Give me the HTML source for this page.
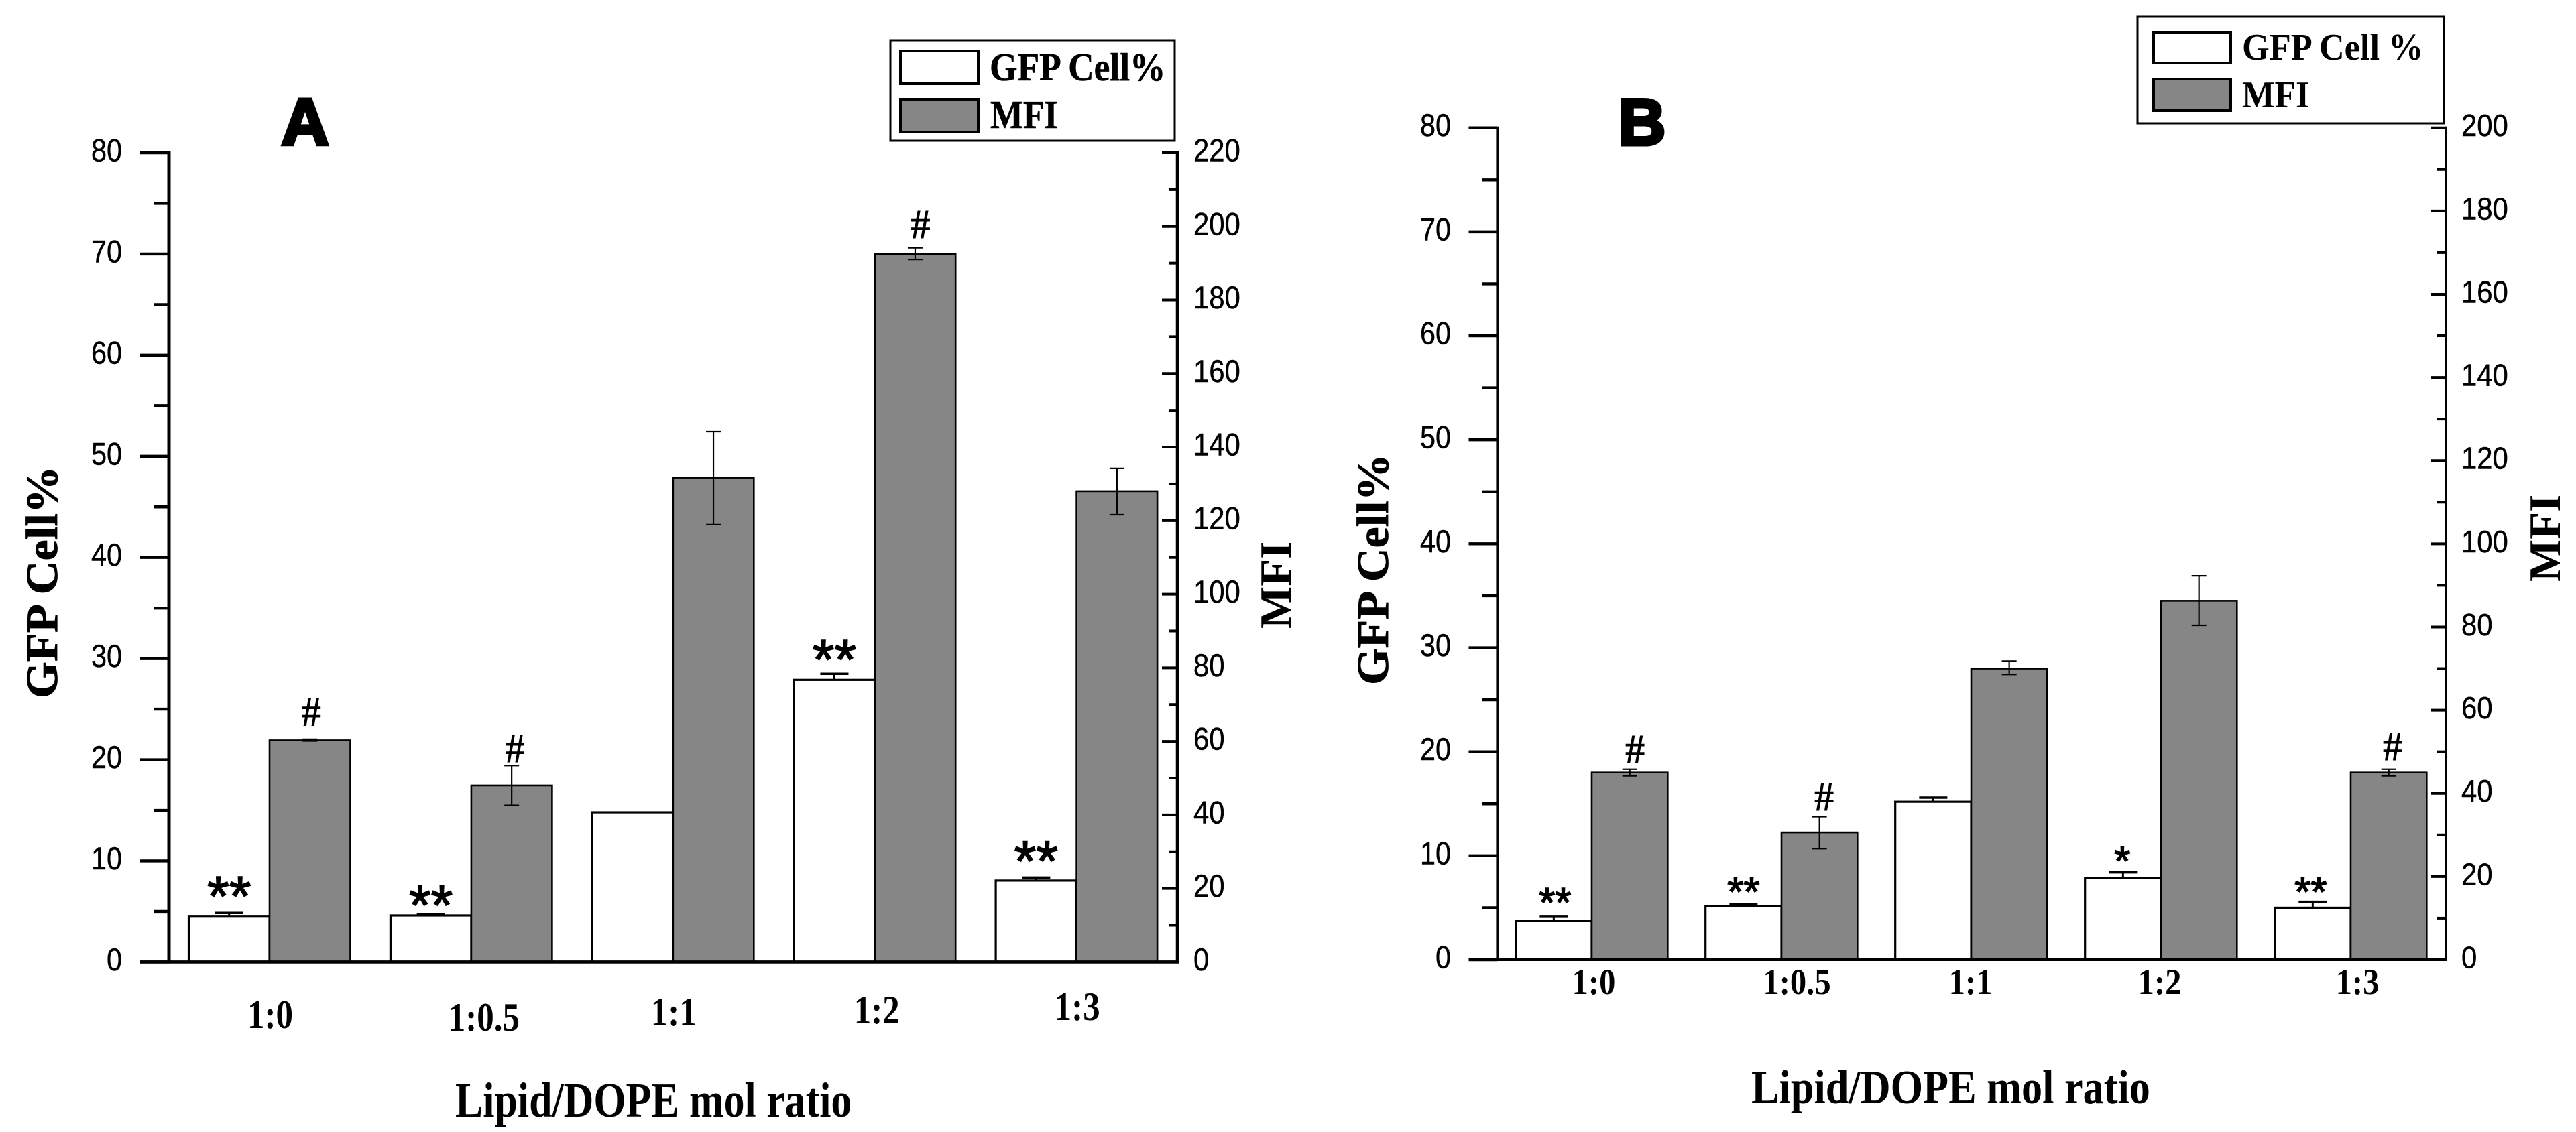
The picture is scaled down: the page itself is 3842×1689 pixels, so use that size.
<!DOCTYPE html>
<html lang="en">
<head>
<meta charset="utf-8">
<title>GFP Cell% and MFI versus Lipid/DOPE mol ratio</title>
<style>
html,body{margin:0;padding:0;background:#fff;}
svg{display:block;}
</style>
</head>
<body>
<svg id="figure" xmlns="http://www.w3.org/2000/svg" width="3842" height="1689" viewBox="0 0 3842 1689">
  <rect x="0" y="0" width="3842" height="1689" fill="#fff"/>
  <g id="panel-a"></g>
  <g id="panel-b"></g>

  <!-- Panel A static text -->
  <text transform="translate(455,216)" text-anchor="middle" font-family="'Liberation Sans',sans-serif" font-weight="700" font-size="98" stroke="#000" stroke-width="5">A</text>
  <text transform="translate(85,1042) rotate(-90) scale(1.06,1)" font-family="'Liberation Serif',serif" font-weight="700" font-size="66.5" stroke="#000" stroke-width="0.8">GFP Cell%</text>
  <text transform="translate(1925,938) rotate(-90)" font-family="'Liberation Serif',serif" font-weight="700" font-size="67">MFI</text>
  <text transform="translate(679,1666) scale(.848,1)" font-family="'Liberation Serif',serif" font-weight="700" font-size="73">Lipid/DOPE mol ratio</text>
  <g>
    <rect x="1328" y="60" width="424" height="150" fill="#fff" stroke="#000" stroke-width="3"/>
    <rect x="1343" y="76" width="116" height="49" fill="#fff" stroke="#000" stroke-width="4"/>
    <rect x="1343" y="148" width="116" height="49" fill="#868686" stroke="#000" stroke-width="4"/>
    <text transform="translate(1476,120) scale(.905,1)" font-family="'Liberation Serif',serif" font-weight="700" font-size="59" stroke="#000" stroke-width="0.6">GFP Cell%</text>
    <text transform="translate(1477,191) scale(.877,1)" font-family="'Liberation Serif',serif" font-weight="700" font-size="59" stroke="#000" stroke-width="0.6">MFI</text>
  </g>

  <!-- Panel B static text -->
  <text transform="translate(2449,216)" text-anchor="middle" font-family="'Liberation Sans',sans-serif" font-weight="700" font-size="98" stroke="#000" stroke-width="5">B</text>
  <text transform="translate(2070,1022) rotate(-90) scale(1.05,1)" font-family="'Liberation Serif',serif" font-weight="700" font-size="66.8" stroke="#000" stroke-width="0.8">GFP Cell%</text>
  <text transform="translate(3818,868) rotate(-90)" font-family="'Liberation Serif',serif" font-weight="700" font-size="67">MFI</text>
  <text transform="translate(2612,1646) scale(.877,1)" font-family="'Liberation Serif',serif" font-weight="700" font-size="71">Lipid/DOPE mol ratio</text>
  <g>
    <rect x="3188" y="25" width="457" height="159" fill="#fff" stroke="#000" stroke-width="3"/>
    <rect x="3212" y="48" width="115" height="46" fill="#fff" stroke="#000" stroke-width="4"/>
    <rect x="3212" y="118" width="115" height="47" fill="#868686" stroke="#000" stroke-width="4"/>
    <text transform="translate(3344,89) scale(.935,1)" font-family="'Liberation Serif',serif" font-weight="700" font-size="56">GFP Cell %</text>
    <text transform="translate(3344,160) scale(.92,1)" font-family="'Liberation Serif',serif" font-weight="700" font-size="56">MFI</text>
  </g>
</svg>

<script>
// ---- chart data ----
const categories = ['1:0', '1:0.5', '1:1', '1:2', '1:3'];

const gfpA = [4.55, 4.6, 14.8, 27.9, 8.05];
const gfpErrUpA = [0.3, 0.15, 0, 0.6, 0.3];
const mfiA = [60.3, 48.0, 131.7, 192.5, 128.0];
const mfiErrUpA = [0.3, 5.4, 12.5, 1.7, 6.2];
const mfiErrDownA = [0.2, 5.4, 12.8, 1.5, 6.4];

const gfpB = [3.74, 5.15, 15.2, 7.86, 5.0];
const gfpErrUpB = [0.46, 0.15, 0.4, 0.54, 0.57];
const mfiB = [45.0, 30.6, 70.0, 86.3, 45.0];
const mfiErrUpB = [0.8, 3.8, 1.8, 6.0, 0.8];
const mfiErrDownB = [0.8, 3.9, 1.4, 5.9, 0.8];

const leftMajorTicks = [0, 10, 20, 30, 40, 50, 60, 70, 80];
const leftMinorTicks = [5, 15, 25, 35, 45, 55, 65, 75];
const rightMajorTicksA = [0, 20, 40, 60, 80, 100, 120, 140, 160, 180, 200, 220];
const rightMinorTicksA = [10, 30, 50, 70, 90, 110, 130, 150, 170, 190, 210];
const rightMajorTicksB = [0, 20, 40, 60, 80, 100, 120, 140, 160, 180, 200];
const rightMinorTicksB = [10, 30, 50, 70, 90, 110, 130, 150, 170, 190];

const SVGNS = 'http://www.w3.org/2000/svg';
const SANS = "'Liberation Sans',sans-serif";
const SERIF = "'Liberation Serif',serif";

function make(parent, tag, attrs, content) {
  const node = document.createElementNS(SVGNS, tag);
  for (const key in attrs) node.setAttribute(key, attrs[key]);
  if (content !== undefined) node.textContent = content;
  parent.appendChild(node);
  return node;
}

function line(parent, x1, y1, x2, y2, width) {
  return make(parent, 'line', { x1: x1, y1: y1, x2: x2, y2: y2, stroke: '#000', 'stroke-width': width });
}

function label(parent, x, y, str, size, sx, anchor, family, weight) {
  return make(parent, 'text', {
    transform: 'translate(' + x + ',' + y + ') scale(' + sx + ',1)',
    'text-anchor': anchor,
    'font-family': family,
    'font-weight': weight,
    'font-size': size,
    fill: '#000'
  }, str);
}

function drawPanel(cfg) {
  const g = document.getElementById(cfg.id);
  const yScale = function (max) {
    return function (v) { return cfg.y0 - (cfg.y0 - cfg.yTop) * v / max; };
  };
  const yLeft = yScale(cfg.leftMax);
  const yRight = yScale(cfg.rightMax);
  const xCenter = function (i) { return cfg.xFirst + cfg.step * i; };

  // bars
  categories.forEach(function (cat, i) {
    const c = xCenter(i);
    const gfpBar = make(g, 'rect', {
      x: c - cfg.barW, y: yLeft(cfg.gfp[i]), width: cfg.barW,
      height: cfg.y0 - yLeft(cfg.gfp[i]), fill: '#fff', stroke: '#000', 'stroke-width': 3.2
    });
    
    

    if (cfg.gfpUp[i] > 0) {
      const gfpErr = make(g, 'g', {});
      
      
      const ex = c - cfg.barW / 2;
      const top = yLeft(cfg.gfp[i] + cfg.gfpUp[i]);
      line(gfpErr, ex, yLeft(cfg.gfp[i]), ex, top, 3);
      line(gfpErr, ex - cfg.capW, top, ex + cfg.capW, top, 3.5);
    }
  });
  categories.forEach(function (cat, i) {
    const c = xCenter(i);
    const mfiBar = make(g, 'rect', {
      x: c, y: yRight(cfg.mfi[i]), width: cfg.barW,
      height: cfg.y0 - yRight(cfg.mfi[i]), fill: '#868686', stroke: '#000', 'stroke-width': 2.6
    });
    
    

    const mfiErr = make(g, 'g', {});
    
    
    const ex = c + cfg.barW / 2;
    const top = yRight(cfg.mfi[i] + cfg.mfiUp[i]);
    const bottom = yRight(cfg.mfi[i] - cfg.mfiDown[i]);
    line(mfiErr, ex, top, ex, bottom, 2.2);
    line(mfiErr, ex - 11, top, ex + 11, top, 2.2);
    line(mfiErr, ex - 11, bottom, ex + 11, bottom, 2.2);

    const catLabel = label(g, c + cfg.catDx[i], cfg.catBase[i], cat, cfg.catSize, cfg.catSx, 'middle', SERIF, 700);
    
    
  });

  // left axis
  const leftAxis = make(g, 'g', {});
  
  
  line(leftAxis, cfg.xLeft, cfg.yTop - 2, cfg.xLeft, cfg.y0 + 2, cfg.leftW);
  leftMajorTicks.forEach(function (v) {
    const tick = line(leftAxis, cfg.xLeft - 43, yLeft(v), cfg.xLeft, yLeft(v), 4.4);
    
    
    const text = label(leftAxis, cfg.leftLabelX, yLeft(v) + 12.5, String(v), 47, 0.88, 'end', SANS, 400);
    text.setAttribute('stroke', '#000');
    text.setAttribute('stroke-width', '0.5');
    
    
  });
  leftMinorTicks.forEach(function (v) {
    const tick = line(leftAxis, cfg.xLeft - 23, yLeft(v), cfg.xLeft, yLeft(v), 4.4);
    
    
  });

  // right axis
  const rightAxis = make(g, 'g', {});
  
  
  line(rightAxis, cfg.xRight, cfg.yTop - 2, cfg.xRight, cfg.y0 + 2, cfg.rightW);
  cfg.rightMajor.forEach(function (v) {
    const tick = line(rightAxis, cfg.xRight - 23, yRight(v), cfg.xRight, yRight(v), 4);
    
    
    const text = label(rightAxis, cfg.rightLabelX, yRight(v) + 12.5, String(v), cfg.rightSize, cfg.rightSx, 'start', SANS, 400);
    text.setAttribute('stroke', '#000');
    text.setAttribute('stroke-width', '0.5');
    
    
  });
  cfg.rightMinor.forEach(function (v) {
    const tick = line(rightAxis, cfg.xRight - 13, yRight(v), cfg.xRight, yRight(v), 4);
    
    
  });

  // x axis
  const xAxis = line(g, cfg.xLeft - 43, cfg.y0, cfg.xRight + cfg.rightW / 2, cfg.y0, cfg.bottomW);
  
  

  // significance marks, placed above the top of each bar's error bar
  cfg.stars.forEach(function (s) {
    const i = s[0];
    const cy = yLeft(cfg.gfp[i] + cfg.gfpUp[i]) - s[2];
    const mark = label(g, xCenter(i) - cfg.barW / 2 + s[3], cy + 0.44 * cfg.starSize, s[1], cfg.starSize, 1, 'middle', SANS, 400);
    mark.setAttribute('stroke', '#000');
    mark.setAttribute('stroke-width', '1.6');
    
    
  });
  cfg.hashes.forEach(function (s) {
    const i = s[0];
    const cy = yRight(cfg.mfi[i] + cfg.mfiUp[i]) - s[1];
    const mark = label(g, xCenter(i) + cfg.barW / 2 + s[2], cy + 21, '#', 62, 0.95, 'middle', SERIF, 700);
    
    
  });
}

drawPanel({
  id: 'panel-a', xLeft: 252, xRight: 1756, y0: 1435.4, yTop: 228, leftMax: 80, rightMax: 220,
  xFirst: 402, step: 300.9, barW: 120.5, capW: 21, leftW: 5, rightW: 4.5, bottomW: 4.6,
  gfp: gfpA, gfpUp: gfpErrUpA, mfi: mfiA, mfiUp: mfiErrUpA, mfiDown: mfiErrDownA,
  rightMajor: rightMajorTicksA, rightMinor: rightMinorTicksA,
  leftLabelX: 182, rightLabelX: 1780, rightSize: 47, rightSx: 0.89,
  catSize: 60, catSx: 0.85, catDx: [1, 19, 1, 3, 1], catBase: [1534, 1538, 1530, 1527, 1522],
  starSize: 84,
  stars: [[0, '**', 33, 0], [1, '**', 21, 0], [3, '**', 29, 0], [4, '**', 33, 0]],
  hashes: [[0, 41, 2], [1, 26, 5], [3, 35, 8]]
});

drawPanel({
  id: 'panel-b', xLeft: 2233.5, xRight: 3648, y0: 1432, yTop: 190.7, leftMax: 80, rightMax: 200,
  xFirst: 2374, step: 283, barW: 113.3, capW: 21, leftW: 4.2, rightW: 3.4, bottomW: 4,
  gfp: gfpB, gfpUp: gfpErrUpB, mfi: mfiB, mfiUp: mfiErrUpB, mfiDown: mfiErrDownB,
  rightMajor: rightMajorTicksB, rightMinor: rightMinorTicksB,
  leftLabelX: 2164, rightLabelX: 3671, rightSize: 46, rightSx: 0.91,
  catSize: 54, catSx: 0.9, catDx: [3, 23, -1, -2, 10], catBase: [1483, 1483, 1483, 1483, 1483],
  starSize: 62,
  stars: [[0, '**', 26, 2], [1, '**', 25, 0], [3, '*', 23, -1], [4, '**', 21, -3]],
  hashes: [[0, 30, 8], [1, 30, 7], [4, 34, 6]]
});
</script>
</body>
</html>
